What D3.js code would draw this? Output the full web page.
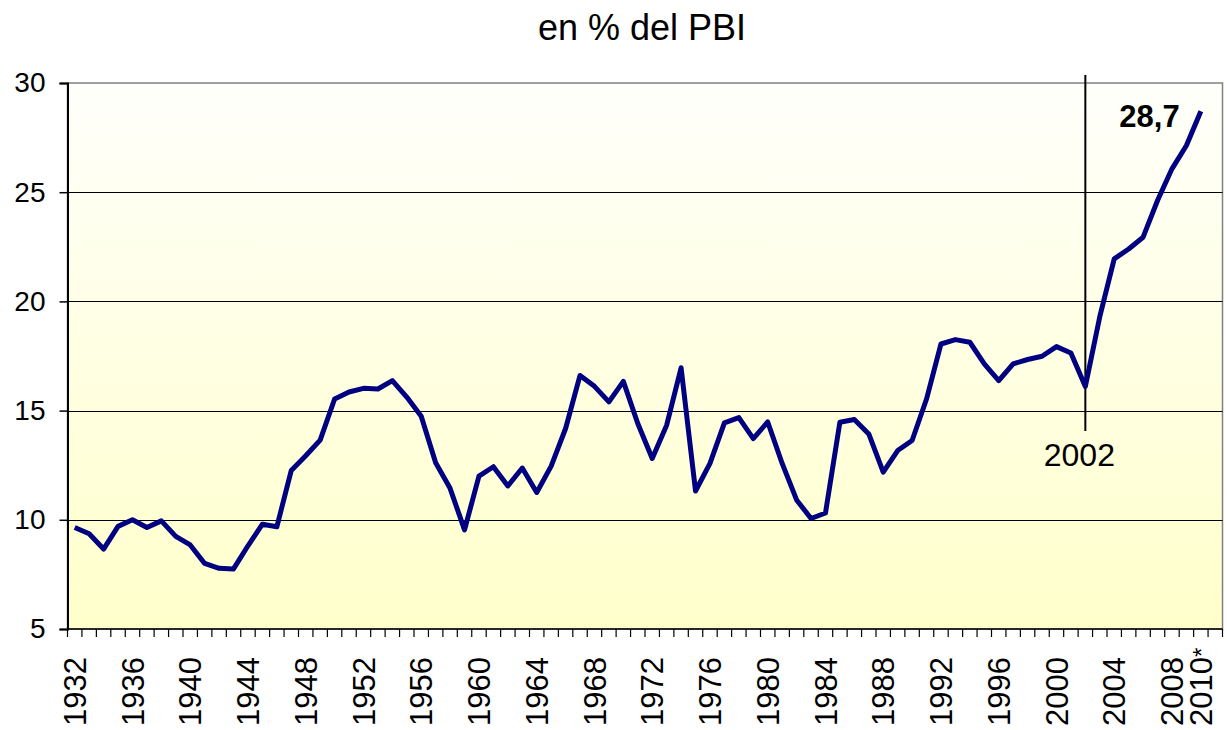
<!DOCTYPE html>
<html>
<head>
<meta charset="utf-8">
<script src="https://cdn.jsdelivr.net/npm/d3@7"></script>
<style>
    html, body { margin: 0; padding: 0; background: #fff; }
    svg { display: block; font-family: "Liberation Sans", Arial, sans-serif; }
</style>
</head>
<body>
<div id="chart"></div>
<script>
    const years = d3.range(1932, 2011);
    const values = [
        9.65, 9.36, 8.66, 9.70, 10.0, 9.65, 9.95, 9.24, 8.85, 8.0,
        7.78, 7.75, 8.81, 9.80, 9.68, 12.26, 12.93, 13.65, 15.53, 15.85,
        16.02, 15.99, 16.37, 15.62, 14.74, 12.61, 11.44, 9.54, 12.0, 12.43,
        11.55, 12.37, 11.25, 12.46, 14.18, 16.61, 16.11, 15.40, 16.34, 14.41,
        12.81, 14.33, 16.96, 11.32, 12.58, 14.44, 14.68, 13.72, 14.48, 12.58,
        10.91, 10.06, 10.31, 14.47, 14.59, 13.93, 12.18, 13.17, 13.63, 15.53,
        18.05, 18.25, 18.13, 17.14, 16.37, 17.14, 17.34, 17.49, 17.93, 17.64,
        16.10, 19.3, 21.95, 22.4, 22.94, 24.62, 26.07, 27.14, 28.71
    ];
    const tickLabels = ['1932', '1936', '1940', '1944', '1948', '1952', '1956', '1960',
        '1964', '1968', '1972', '1976', '1980', '1984', '1988', '1992', '1996',
        '2000', '2004', '2008', '2010*'];
    const yTicks = [5, 10, 15, 20, 25, 30];
    const markYear = 2002;
    const lastLabel = '28,7';

    const width = 1227;
    const height = 730;
    const plot = { left: 67.5, right: 1222.5, top: 83, bottom: 629 };

    const svg = d3.select('#chart')
        .append('svg')
        .attr('width', width)
        .attr('height', height);

    // one empty slot after 2010, like the original
    const slots = years.map(String).concat(['']);
    const x = d3.scaleBand()
        .domain(slots)
        .range([plot.left, plot.right]);

    const y = d3.scaleLinear()
        .domain([5, 30])
        .range([plot.bottom, plot.top]);

    const defs = svg.append('defs');
    const grad = defs.append('linearGradient')
        .attr('id', 'bg')
        .attr('x1', 0).attr('y1', 0)
        .attr('x2', 0).attr('y2', 1);
    grad.append('stop').attr('offset', '0%').attr('stop-color', '#fffffb');
    grad.append('stop').attr('offset', '100%').attr('stop-color', '#ffffcb');

    svg.append('rect')
        .attr('x', plot.left)
        .attr('y', plot.top)
        .attr('width', plot.right - plot.left)
        .attr('height', plot.bottom - plot.top)
        .attr('fill', 'url(#bg)')
        .attr('stroke', '#808080')
        .attr('stroke-width', 1.5);

    // gridlines
    svg.append('g')
        .selectAll('line')
        .data(yTicks.slice(1, -1))
        .join('line')
        .attr('x1', plot.left)
        .attr('x2', plot.right)
        .attr('y1', d => Math.round(y(d)) + 0.5)
        .attr('y2', d => Math.round(y(d)) + 0.5)
        .attr('stroke', '#000')
        .attr('stroke-width', 1);

    // y axis
    const yAxis = svg.append('g')
        .attr('transform', `translate(${plot.left},0)`)
        .call(d3.axisLeft(y).tickValues(yTicks).tickSize(8).tickPadding(14));
    yAxis.select('.domain').attr('stroke', '#000').attr('stroke-width', 2);
    yAxis.selectAll('.tick line').attr('stroke', '#000').attr('stroke-width', 1.5);
    yAxis.selectAll('.tick text')
        .attr('font-size', 28)
        .attr('font-family', '"Liberation Sans", Arial, sans-serif')
        .attr('fill', '#000');

    // x axis: tick marks between categories
    const xAxis = svg.append('g');
    xAxis.append('line')
        .attr('x1', plot.left)
        .attr('x2', plot.right)
        .attr('y1', plot.bottom)
        .attr('y2', plot.bottom)
        .attr('stroke', '#000')
        .attr('stroke-width', 1.5);
    xAxis.selectAll('line.tk')
        .data(slots.concat(['end']))
        .join('line')
        .attr('class', 'tk')
        .attr('x1', d => d === 'end' ? plot.right : x(d))
        .attr('x2', d => d === 'end' ? plot.right : x(d))
        .attr('y1', plot.bottom)
        .attr('y2', plot.bottom + 8)
        .attr('stroke', '#000')
        .attr('stroke-width', 1.2);

    const xLabels = xAxis.selectAll('text')
        .data(tickLabels)
        .join('text')
        .attr('transform', d => `translate(${x(d.replace('*', '')) + x.bandwidth() / 2},${height - 4}) rotate(-90)`)
        .attr('text-anchor', 'start')
        .attr('dy', '0.36em')
        .attr('font-size', 31)
        .attr('fill', '#000');
    xLabels.append('tspan').text(d => d.replace('*', ''));
    xLabels.filter(d => d.includes('*'))
        .append('tspan')
        .attr('font-size', 24)
        .attr('dy', '-0.1em')
        .text('*');

    // marker at 2002
    svg.append('line')
        .attr('x1', x(String(markYear)) + x.bandwidth() / 2)
        .attr('x2', x(String(markYear)) + x.bandwidth() / 2)
        .attr('y1', 75)
        .attr('y2', 431)
        .attr('stroke', '#000')
        .attr('stroke-width', 2);

    svg.append('text')
        .attr('x', x(String(markYear)) + x.bandwidth() / 2 - 6)
        .attr('y', 466)
        .attr('text-anchor', 'middle')
        .attr('font-size', 32)
        .attr('fill', '#000')
        .text(String(markYear));

    // series line
    const line = d3.line()
        .x((d, i) => x(String(years[i])) + x.bandwidth() / 2)
        .y(d => y(d));

    svg.append('path')
        .datum(values)
        .attr('d', line)
        .attr('fill', 'none')
        .attr('stroke', '#000080')
        .attr('stroke-width', 5)
        .attr('stroke-linejoin', 'round');

    svg.append('text')
        .attr('x', x('2010') - 14)
        .attr('y', 127)
        .attr('text-anchor', 'end')
        .attr('font-size', 31)
        .attr('font-weight', 'bold')
        .attr('fill', '#000')
        .text(lastLabel);

    // title
    svg.append('text')
        .attr('x', 642)
        .attr('y', 40)
        .attr('text-anchor', 'middle')
        .attr('font-size', 36)
        .attr('fill', '#000')
        .text('en % del PBI');
</script>
</body>
</html>
